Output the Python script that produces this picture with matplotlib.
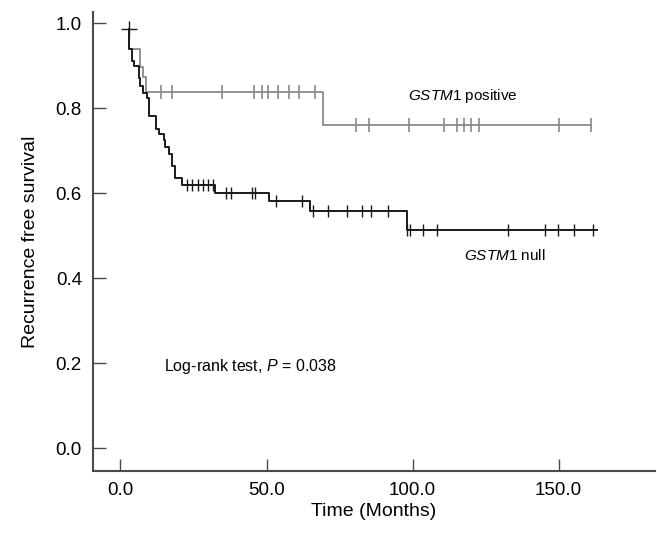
import matplotlib
matplotlib.use("Agg")
import matplotlib.pyplot as plt

plt.rcParams['font.family'] = ['Liberation Sans Narrow', 'Liberation Sans', 'DejaVu Sans']
plt.rcParams['mathtext.fontset'] = 'custom'
plt.rcParams['mathtext.rm'] = 'Liberation Sans'
plt.rcParams['mathtext.it'] = 'Liberation Sans:italic'

# GSTM1 positive (gray) - step times and survival after the step
pos_t = [2.9, 2.9, 6.8, 7.8, 8.9, 69.2, 161.2]
pos_s = [0.986, 0.940, 0.898, 0.874, 0.837, 0.761, 0.761]
pos_cens_t = [13.7, 17.7, 34.7, 45.8, 48.3, 50.6, 54.0, 57.7, 61.0, 66.5,
              80.6, 85.0, 98.8, 110.7, 115.1, 117.5, 120.0, 122.9, 150.0, 161.2]
pos_cens_s = [0.837] * 10 + [0.761] * 10

# GSTM1 null (black)
null_t = [2.9, 2.9, 4.1, 4.7, 6.2, 6.6, 7.6, 9.1, 9.8, 12.1, 13.1, 14.8, 15.4,
          16.7, 17.5, 18.6, 20.9, 32.3, 50.9, 64.9, 98.0, 163.3]
null_s = [0.986, 0.939, 0.911, 0.899, 0.872, 0.852, 0.836, 0.825, 0.781, 0.752,
          0.739, 0.726, 0.709, 0.693, 0.663, 0.635, 0.620, 0.601, 0.581, 0.559,
          0.514, 0.514]
null_cens_t = [22.6, 24.5, 26.4, 28.2, 30.0, 31.8,
               36.0, 37.7, 44.9, 46.0,
               53.1, 62.0,
               65.8, 70.9, 77.5, 82.6, 85.7, 91.7,
               98.0, 99.2, 103.7, 108.3, 132.8, 145.2, 149.8, 155.3, 161.7]
null_cens_s = [0.620] * 6 + [0.601] * 4 + [0.581] * 2 + [0.559] * 6 + [0.514] * 9

fig = plt.figure(figsize=(6.57, 5.35), dpi=100)
ax = fig.add_axes([0.1416, 0.1196, 0.8554, 0.8585])

gray = '#8a8a8a'
dark = '#1a1a1a'
ax.step(pos_t, pos_s, where='post', color=gray, lw=1.3, zorder=2)
ax.plot(pos_cens_t, pos_cens_s, ls='none', marker='|', ms=10, mew=1.2, color=gray, zorder=2)
ax.step(null_t, null_s, where='post', color=dark, lw=1.4, zorder=3)
ax.plot(null_cens_t, null_cens_s, ls='none', marker='|', ms=9, mew=1.0, color=dark, zorder=3)
ax.plot([null_t[0]], [null_s[0]], ls='none', marker='+', ms=11, mew=1.0, color=dark, zorder=3)

ax.set_xlim(-9.4, 183)
ax.set_ylim(-0.054, 1.027)
ax.set_xticks([0, 50, 100, 150])
ax.set_xticklabels(['0.0', '50.0', '100.0', '150.0'])
ax.set_yticks([0, 0.2, 0.4, 0.6, 0.8, 1.0])
ax.set_yticklabels(['0.0', '0.2', '0.4', '0.6', '0.8', '1.0'])

for s in ['top', 'right']:
    ax.spines[s].set_visible(False)
for s in ['left', 'bottom']:
    ax.spines[s].set_color('#4a4a4a')
    ax.spines[s].set_linewidth(1.5)
ax.tick_params(direction='in', length=9, width=1.0, color='#4a4a4a', labelsize=13.5, pad=8)

ax.set_xlabel('Time (Months)', fontsize=14, labelpad=3)
ax.set_ylabel('Recurrence free survival', fontsize=14, labelpad=12)

ax.text(98.5, 0.819, r'$\it{GSTM1}$ positive', fontsize=11, va='baseline', ha='left')
ax.text(117.6, 0.443, r'$\it{GSTM1}$ null', fontsize=11, va='baseline', ha='left')
ax.text(15, 0.193, r'Log-rank test, $\it{P}$ = 0.038', fontsize=11.5, va='center', ha='left')

fig.savefig('out.png', dpi=100)
